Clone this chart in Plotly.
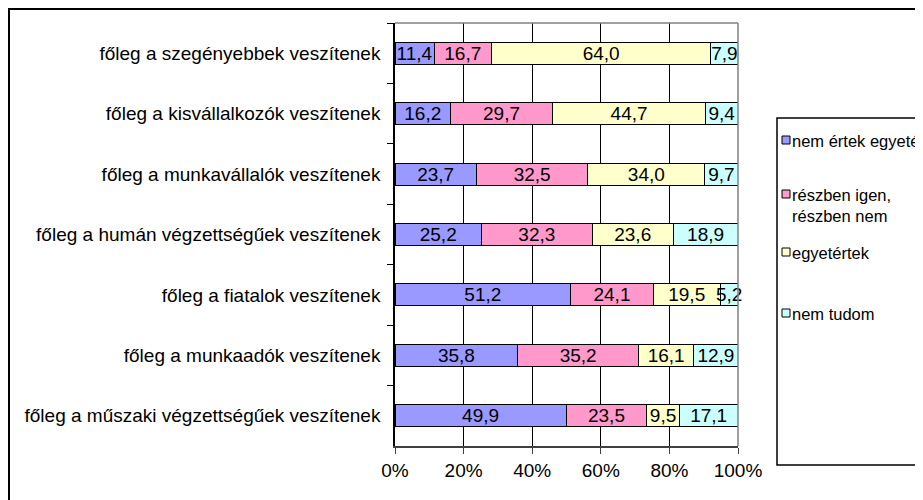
import plotly.graph_objects as go

categories = [
    "főleg a szegényebbek veszítenek",
    "főleg a kisvállalkozók veszítenek",
    "főleg a munkavállalók veszítenek",
    "főleg a humán végzettségűek veszítenek",
    "főleg a fiatalok veszítenek",
    "főleg a munkaadók veszítenek",
    "főleg a műszaki végzettségűek veszítenek",
]
series_names = ["nem értek egyetért", "részben igen,<br>részben nem", "egyetértek", "nem tudom"]
nem_ertek = [11.4, 16.2, 23.7, 25.2, 51.2, 35.8, 49.9]
reszben = [16.7, 29.7, 32.5, 32.3, 24.1, 35.2, 23.5]
egyetertek = [64.0, 44.7, 34.0, 23.6, 19.5, 16.1, 9.5]
nem_tudom = [7.9, 9.4, 9.7, 18.9, 5.2, 12.9, 17.1]
series_values = [nem_ertek, reszben, egyetertek, nem_tudom]
colors = ["#9999FF", "#FF99CC", "#FFFFCC", "#CCFFFF"]
x_tickvals = [0, 20, 40, 60, 80, 100]
x_ticktext = ["0%", "20%", "40%", "60%", "80%", "100%"]

FONT = "Arial, Liberation Sans, sans-serif"
OFF = 8  # page body margin
W, H = 923 - OFF, 500 - OFF
L, R, T, B = 395, 738, 23, 446  # plot area in page px


def px(x):
    return (x - L) / (R - L)


def py(y):
    return (B - y) / (B - T)


fig = go.Figure()
for name, vals, col in zip(series_names, series_values, colors):
    fig.add_trace(go.Bar(
        y=categories, x=vals, orientation="h", name=name,
        marker=dict(color=col, line=dict(color="#000000", width=1)),
        text=[f"{v:.1f}".replace(".", ",") for v in vals],
        textposition="inside", insidetextanchor="middle", textangle=0,
        textfont=dict(family=FONT, size=19, color="#000000"),
        constraintext="none", cliponaxis=False,
        showlegend=False,
    ))

shapes = []
# outer chart frame
shapes.append(dict(type="rect", xref="paper", yref="paper",
                   x0=px(9), x1=px(960), y0=py(9), y1=py(540),
                   line=dict(color="#000000", width=2), layer="below"))
# grey top and right border of plot area
shapes.append(dict(type="line", xref="paper", yref="paper",
                   x0=0, x1=1, y0=1, y1=1, line=dict(color="#808080", width=1.5)))
shapes.append(dict(type="line", xref="paper", yref="paper",
                   x0=1, x1=1, y0=0, y1=1, line=dict(color="#808080", width=1.5)))
# legend box
shapes.append(dict(type="rect", xref="paper", yref="paper",
                   x0=px(777), x1=px(960), y0=py(118), y1=py(465),
                   line=dict(color="#000000", width=1.5)))

annotations = []
leg_y = [140, 194, 252, 313]
for name, col, yy in zip(series_names, colors, leg_y):
    shapes.append(dict(type="rect", xref="paper", yref="paper",
                       x0=px(782), x1=px(790), y0=py(yy - 4), y1=py(yy + 4),
                       fillcolor=col, line=dict(color="#000000", width=1)))
    annotations.append(dict(xref="paper", yref="paper", x=px(790), y=py(yy - 10),
                            xanchor="left", yanchor="top", align="left",
                            text=name, showarrow=False,
                            font=dict(family=FONT, size=16.5, color="#000000")))

fig.update_layout(
    width=W, height=H,
    margin=dict(l=L - OFF, r=923 - R, t=T - OFF, b=500 - B),
    barmode="stack", barnorm="percent", bargap=0.636,
    paper_bgcolor="#FFFFFF", plot_bgcolor="#FFFFFF",
    font=dict(family=FONT, size=19, color="#000000"),
    separators=",.",
    uniformtext=dict(minsize=19, mode="show"),
    shapes=shapes, annotations=annotations,
    xaxis=dict(range=[0, 100], tickvals=x_tickvals, ticktext=x_ticktext,
               showgrid=True, gridcolor="#000000", gridwidth=1,
               showline=True, linecolor="#404040", linewidth=1.5,
               ticks="outside", ticklen=6, tickcolor="#404040",
               tickfont=dict(family=FONT, size=19, color="#000000"),
               zeroline=False, fixedrange=True),
    yaxis=dict(autorange="reversed", type="category",
               showgrid=False, showline=True, linecolor="#000000", linewidth=1.5,
               ticks="outside", ticklen=6, tickcolor="#000000", tickson="boundaries",
               ticklabelstandoff=9,
               tickfont=dict(family=FONT, size=19, color="#000000"),
               zeroline=False, fixedrange=True),
)

fig.write_html("out.html")
